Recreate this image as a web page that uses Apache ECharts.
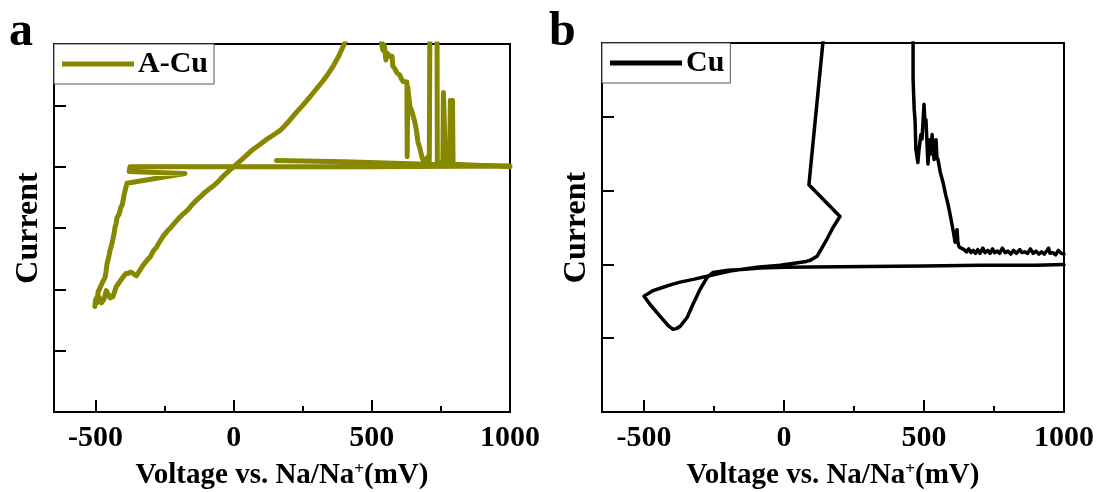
<!DOCTYPE html>
<html>
<head>
<meta charset="utf-8">
<script src="https://cdn.jsdelivr.net/npm/echarts@6/dist/echarts.min.js"></script>
<style>
html, body { margin: 0; background: #fff; }
#main { width: 1097px; height: 492px; }
</style>
</head>
<body>
<div id="main"></div>
<script>
// tick positions on the voltage axis (mV)
const xTicks = [-500, 0, 500, 1000];
const xMinorTicks = [-250, 250, 750];

// panel a : A-Cu
const voltA = [155, 400, 700, 1000, 1000, 500, 0, -375, -378, -176, -386,
  -393, -396, -400, -403, -408, -411, -415, -422, -425, -429, -433, -436, -440, -447, -451, -458, -462, -465, -472, -476, -484, -491, -494, -498, -502, -500,
  -490, -484, -478, -469, -461, -455, -447, -437, -425, -418, -410, -400, -390, -382, -372, -364, -352, -346, -335, -328, -314, -300, -290, -280, -270, -256, -240, -227, -210, -194, -180, -165, -150, -133, -118, -104, -90, -75, -55, -39, -20, 1, 30, 70, 95, 121, 145, 171, 200, 222, 250, 273, 300, 320, 340, 359, 380, 399, 425,
  530, 536, 540, 545, 551, 556, 560, 565, 573, 576, 583, 591, 602, 607, 613, 620, 627, 628, 630, 638, 645, 656, 661, 667, 674, 681, 689, 696, 703, 708, 710, 736, 737, 757, 759, 765, 767, 782, 784, 792, 794, 1000];
const currA = [0.10, 0.08, 0.04, 0.01, 0, 0, 0, 0, -0.08, -0.11, -0.27,
  -0.30, -0.45, -0.55, -0.62, -0.66, -0.72, -0.78, -0.83, -0.93, -0.98, -1.10, -1.12, -1.25, -1.36, -1.45, -1.58, -1.72, -1.80, -1.82, -1.90, -1.98, -2.05, -2.22, -2.15, -2.28, -2.18,
  -2.10, -2.12, -2.22, -2.16, -2.02, -2.05, -2.14, -2.12, -1.96, -1.93, -1.86, -1.80, -1.74, -1.74, -1.72, -1.74, -1.78, -1.76, -1.66, -1.61, -1.53, -1.46, -1.37, -1.32, -1.24, -1.14, -1.05, -0.99, -0.90, -0.82, -0.76, -0.70, -0.62, -0.54, -0.48, -0.42, -0.37, -0.32, -0.24, -0.16, -0.08, 0, 0.12, 0.28, 0.36, 0.45, 0.52, 0.60, 0.74, 0.86, 1.00, 1.12, 1.27, 1.38, 1.50, 1.63, 1.80, 1.99, 2.25,
  2.25, 2.00, 1.90, 1.98, 1.74, 1.85, 1.88, 1.80, 1.80, 1.64, 1.60, 1.53, 1.49, 1.43, 1.39, 1.40, 1.38, 0.16, 1.30, 0.98, 0.90, 0.72, 0.60, 0.40, 0.30, 0.16, 0.06, 0.12, 0.16, 0.10, 2.25, 2.25, 0.06, 0.06, 1.21, 1.21, 0.05, 0.05, 1.08, 1.08, 0.04, 0.0];

// panel b : Cu
const voltB = [1000, 900, 700, 500, 300, 100, 0, -86, -150, -200, -254, -275, -300, -325, -346, -371, -385, -396, -410, -418, -443, -479, -500,
  -470, -432, -400, -371, -320, -275, -193, -96, -14, 43, 80, 96, 118, 135, 153, 175, 200, 89, 139, 147,
  458, 461, 461, 465, 468, 471, 478, 482, 489, 493, 500, 504, 507, 514, 518, 521, 525, 529, 532, 536, 539, 543, 546, 550, 558, 568, 577, 586, 593, 600, 606, 611, 615, 618, 621, 625, 633, 643,
  652, 660, 668, 676, 684, 692, 700, 710, 718, 728, 736, 745, 752, 762, 770, 780, 790, 800, 810, 820, 830, 842, 850, 860, 870, 880, 890, 900, 910, 920, 930, 945, 950, 960, 970, 980, 990, 1000];
const currB = [0, -0.01, -0.01, -0.02, -0.03, -0.035, -0.04, -0.05, -0.07, -0.08, -0.11, -0.18, -0.34, -0.54, -0.72, -0.84, -0.87, -0.88, -0.84, -0.81, -0.70, -0.54, -0.43,
  -0.36, -0.31, -0.27, -0.24, -0.20, -0.16, -0.09, -0.04, -0.01, 0.02, 0.04, 0.06, 0.11, 0.22, 0.34, 0.50, 0.65, 1.08, 3.01, 3.3,
  3.3, 3.0, 2.51, 2.10, 1.96, 1.56, 1.38, 1.55, 1.76, 1.70, 2.17, 1.90, 1.96, 1.36, 1.55, 1.69, 1.50, 1.76, 1.55, 1.42, 1.62, 1.69, 1.45, 1.42, 1.25, 1.11, 0.95, 0.81, 0.68, 0.54, 0.42, 0.30, 0.42, 0.47, 0.30, 0.24, 0.22, 0.20,
  0.17, 0.21, 0.16, 0.19, 0.15, 0.20, 0.15, 0.22, 0.16, 0.19, 0.15, 0.21, 0.16, 0.18, 0.15, 0.22, 0.16, 0.18, 0.14, 0.19, 0.15, 0.20, 0.16, 0.17, 0.15, 0.21, 0.15, 0.18, 0.14, 0.17, 0.14, 0.22, 0.15, 0.16, 0.13, 0.19, 0.15, 0.14];

const serif = 'Liberation Serif';
const txt = { fontFamily: serif, fontWeight: 'bold', color: '#000' };

function pairs(xs, ys) {
    return xs.map((x, i) => [x, ys[i]]);
}

function voltageAxes(gridIndex) {
    return [{
        gridIndex: gridIndex,
        type: 'value',
        position: 'bottom',
        min: -650,
        max: 1000,
        axisLine: { onZero: false, lineStyle: { color: '#000', width: 2 } },
        axisTick: { inside: true, length: 12, customValues: xTicks, lineStyle: { color: '#000', width: 2 } },
        axisLabel: Object.assign({ customValues: xTicks, margin: 11, fontSize: 30, formatter: v => String(v) }, txt),
        splitLine: { show: false },
        name: 'Voltage vs. Na/Na{sup|+}(mV)',
        nameLocation: 'middle',
        nameGap: 49,
        nameTextStyle: Object.assign({
            fontSize: 29,
            rich: { sup: Object.assign({ fontSize: 17, verticalAlign: 'top' }, txt) }
        }, txt)
    }, {
        gridIndex: gridIndex,
        type: 'value',
        position: 'bottom',
        min: -650,
        max: 1000,
        axisLine: { show: false, onZero: false },
        axisTick: { inside: true, length: 6, customValues: xMinorTicks, lineStyle: { color: '#000', width: 2 } },
        axisLabel: { show: false },
        splitLine: { show: false }
    }];
}

function currentAxis(gridIndex, min, max) {
    return {
        gridIndex: gridIndex,
        type: 'value',
        min: min,
        max: max,
        interval: 1,
        axisLine: { onZero: false, lineStyle: { color: '#000', width: 2 } },
        axisTick: { inside: true, length: 12, lineStyle: { color: '#000', width: 2 } },
        axisLabel: { show: false },
        splitLine: { show: false },
        name: 'Current',
        nameLocation: 'middle',
        nameRotate: 90,
        nameGap: 9,
        nameTextStyle: Object.assign({ fontSize: 32 }, txt)
    };
}

function legendBox(name, left, top) {
    return {
        data: [name],
        left: left,
        top: top,
        orient: 'horizontal',
        icon: 'rect',
        itemWidth: 72,
        itemHeight: 5,
        padding: [5, 6, 5, 8],
        backgroundColor: '#fff',
        borderColor: '#555',
        borderWidth: 1,
        itemStyle: { borderWidth: 0 },
        textStyle: Object.assign({ fontSize: 30, padding: [0, 0, 0, -1] }, txt)
    };
}

let chart = echarts.init(document.getElementById('main'));
chart.setOption({
    animation: false,
    backgroundColor: '#fff',
    title: [
        { text: 'a', left: 9, top: 9, padding: 0, textStyle: Object.assign({ fontSize: 48 }, txt) },
        { text: 'b', left: 549, top: 9, padding: 0, textStyle: Object.assign({ fontSize: 48 }, txt) }
    ],
    grid: [
        { left: 54, top: 44, width: 456, height: 368, show: true, borderColor: '#000', borderWidth: 2, outerBoundsMode: 'none' },
        { left: 602, top: 43, width: 462, height: 369, show: true, borderColor: '#000', borderWidth: 2, outerBoundsMode: 'none' }
    ],
    xAxis: voltageAxes(0).concat(voltageAxes(1)),
    yAxis: [currentAxis(0, -4, 2), currentAxis(1, -2, 3)],
    legend: [legendBox('A-Cu', 54, 44), legendBox('Cu', 602, 43)],
    series: [
        {
            name: 'A-Cu',
            type: 'line',
            xAxisIndex: 0,
            yAxisIndex: 0,
            symbol: 'none',
            clip: true,
            color: '#878700',
            lineStyle: { width: 5, color: '#878700', join: 'round', cap: 'round' },
            data: pairs(voltA, currA)
        },
        {
            name: 'Cu',
            type: 'line',
            xAxisIndex: 2,
            yAxisIndex: 1,
            symbol: 'none',
            clip: true,
            color: '#000',
            lineStyle: { width: 3.5, color: '#000', join: 'round', cap: 'round' },
            data: pairs(voltB, currB)
        }
    ]
});
</script>
</body>
</html>
